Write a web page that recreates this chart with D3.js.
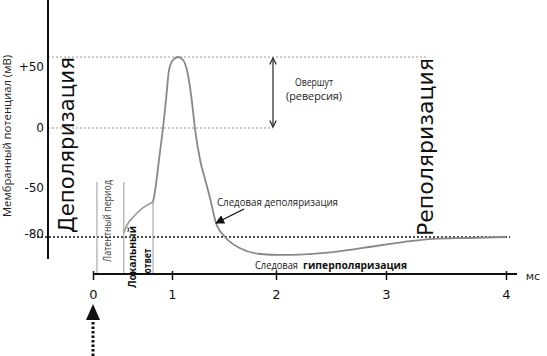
<!DOCTYPE html>
<html><head><meta charset="utf-8">
<script src="https://cdn.jsdelivr.net/npm/d3@7"></script>
<style>body{margin:0;background:#fff}svg{display:block}text{font-family:"DejaVu Sans",Verdana,sans-serif}.sm{font-family:"Open Sans","DejaVu Sans",sans-serif}</style>
</head><body><svg id="c" width="547" height="356"></svg>
<script>
// ---- data ----
const xTicks = [0, 1, 2, 3, 4];
const xTickLabels = ["0", "1", "2", "3", "4"];
const yTicks = [50, 0, -50, -80];
const yTickLabels = ["+50", "0", "-50", "-80"];
// local response (ms, mV)
const localT = [0.39, 0.43, 0.51, 0.63, 0.76];
const localV = [-77.5, -72.7, -67.8, -62.2, -58.6];
// action potential (ms, mV)
const apT = [0.76, 0.785, 0.835, 0.886, 0.924, 0.962, 1.01, 1.06, 1.106, 1.144, 1.19, 1.22, 1.27, 1.32, 1.37, 1.42, 1.51, 1.65, 1.85, 2.04, 2.52, 2.97, 3.39, 3.68, 4.0];
const apV = [-58.6, -52, -26.7, 0, 19.7, 40.8, 47.9, 50, 47.9, 40.8, 19.7, 0, -26.7, -43.3, -57.3, -70.8, -80, -86.7, -90.4, -91, -89.2, -84.9, -81.2, -80.6, -80];
const phaseT = [0.05, 0.39, 0.76]; // latent period / local response boundaries
const restV = -80, peakV = 50, zeroV = 0;

// ---- scales (hand-drawn, non uniform axis) ----
const x = d3.scaleLinear().domain([0, 1, 2, 3, 4]).range([93, 172, 276, 386, 506]);
const y = d3.scaleLinear().domain([-80, -50, 0, 50]).range([237, 188, 128, 57]);

const svg = d3.select("#c");
const defs = svg.append("defs");
defs.append("marker").attr("id","fill").attr("viewBox","0 0 10 10").attr("refX",9).attr("refY",5)
  .attr("markerWidth",9).attr("markerHeight",9).attr("markerUnits","userSpaceOnUse").attr("orient","auto")
  .append("path").attr("d","M0,0L10,5L0,10Z").attr("fill","#111");
defs.append("marker").attr("id","chev").attr("viewBox","0 0 10 10").attr("refX",9).attr("refY",5)
  .attr("markerWidth",8).attr("markerHeight",8).attr("markerUnits","userSpaceOnUse").attr("orient","auto-start-reverse")
  .append("path").attr("d","M1,1L9,5L1,9").attr("fill","none").attr("stroke","#333").attr("stroke-width",1.6);

const xAxisY = 274, yAxisX = 48;

function label(sel, len) { return sel.attr("textLength", len).attr("lengthAdjust", "spacingAndGlyphs"); }

// dotted reference lines
svg.append("line").attr("x1", yAxisX).attr("x2", 428).attr("y1", y(peakV)).attr("y2", y(peakV))
  .attr("stroke","#999").attr("stroke-width",1).attr("stroke-dasharray","2,2");
svg.append("line").attr("x1", yAxisX).attr("x2", 273).attr("y1", y(zeroV)).attr("y2", y(zeroV))
  .attr("stroke","#999").attr("stroke-width",1).attr("stroke-dasharray","2,2");
svg.append("line").attr("x1", 37).attr("x2", 510).attr("y1", y(restV)).attr("y2", y(restV))
  .attr("stroke","#111").attr("stroke-width",1.6).attr("stroke-dasharray","2,2");

// phase boundary lines
svg.append("line").attr("x1", x(phaseT[0])).attr("x2", x(phaseT[0])).attr("y1", 182).attr("y2", xAxisY).attr("stroke","#aaa").attr("stroke-width",1.2);
svg.append("line").attr("x1", x(phaseT[1])).attr("x2", x(phaseT[1])).attr("y1", 182).attr("y2", xAxisY).attr("stroke","#aaa").attr("stroke-width",1.2);
svg.append("line").attr("x1", x(phaseT[2])).attr("x2", x(phaseT[2])).attr("y1", y(localV[localV.length-1])).attr("y2", xAxisY).attr("stroke","#aaa").attr("stroke-width",1.2);

// curves
const line = d3.line().x(d => x(d[0])).y(d => y(d[1])).curve(d3.curveMonotoneX);
svg.append("path").datum(localT.map((t,i)=>[t, localV[i]])).attr("d", line)
  .attr("fill","none").attr("stroke","#999").attr("stroke-width",1.6);
svg.append("path").datum(apT.map((t,i)=>[t, apV[i]])).attr("d", line)
  .attr("fill","none").attr("stroke","#888").attr("stroke-width",1.8);

// axes
svg.append("line").attr("x1", yAxisX).attr("x2", yAxisX).attr("y1", 0).attr("y2", 259).attr("stroke","#111").attr("stroke-width",2);
const xa = svg.append("g").attr("transform", `translate(0,${xAxisY})`)
  .call(d3.axisBottom(x).tickValues(xTicks).tickFormat((d,i)=>xTickLabels[i]).tickSize(6).tickPadding(10));
xa.select(".domain").attr("d", `M${x(0)},0H517`).attr("stroke","#111").attr("stroke-width",2);
xa.selectAll(".tick line").attr("stroke","#111").attr("stroke-width",1.5).attr("y1",-3);
xa.selectAll(".tick text").attr("font-size",13).attr("fill","#111").attr("font-family","DejaVu Sans");
svg.append("text").attr("x",533).attr("y",xAxisY+6).attr("text-anchor","middle").attr("font-size",11).attr("fill","#222").text("мс");

// y tick labels
svg.selectAll(".yt").data(yTicks).enter().append("text")
  .attr("x", 44).attr("y", (d)=> y(d) + (d===50 ? 10 : d===-80 ? -3 : 0)).attr("dy","0.35em")
  .attr("text-anchor","end").attr("font-size",12).attr("fill","#111")
  .text((d,i)=>yTickLabels[i]);
label(svg.append("text").attr("class","sm").attr("transform","translate(11,136) rotate(-90)").attr("text-anchor","middle")
  .attr("font-size",10.5).attr("fill","#222"), 162).text("Мембранный потенциал (мВ)");

// big phase labels
label(svg.append("text").attr("transform",`translate(74,${(57+233)/2}) rotate(-90)`).attr("text-anchor","middle")
  .attr("font-size",21).attr("fill","#111"), 176).text("Деполяризация");
label(svg.append("text").attr("transform",`translate(433,${(58+236)/2}) rotate(-90)`).attr("text-anchor","middle")
  .attr("font-size",21).attr("fill","#111"), 178).text("Реполяризация");

// small phase labels
label(svg.append("text").attr("class","sm").attr("transform",`translate(${(x(phaseT[0])+x(phaseT[1]))/2+1},221) rotate(-90)`).attr("text-anchor","middle")
  .attr("font-size",10).attr("fill","#444"), 82).text("Латентный период");
label(svg.append("text").attr("class","sm").attr("transform",`translate(${x(phaseT[1])+12},257) rotate(-90)`).attr("text-anchor","middle")
  .attr("font-size",11).attr("font-weight","bold").attr("fill","#111"), 62).text("Локальный");
label(svg.append("text").attr("class","sm").attr("transform",`translate(${x(phaseT[1])+27},261) rotate(-90)`).attr("text-anchor","middle")
  .attr("font-size",11).attr("font-weight","bold").attr("fill","#111"), 25).text("ответ");

// overshoot arrow
svg.append("line").attr("x1",273).attr("x2",273).attr("y1",y(peakV)+1).attr("y2",y(zeroV)-1)
  .attr("stroke","#333").attr("stroke-width",1.3).attr("marker-start","url(#chev)").attr("marker-end","url(#chev)");
label(svg.append("text").attr("class","sm").attr("x",314).attr("y",86).attr("text-anchor","middle").attr("font-size",11.5).attr("fill","#222"), 38).text("Овершут");
label(svg.append("text").attr("class","sm").attr("x",314).attr("y",100).attr("text-anchor","middle").attr("font-size",11.5).attr("fill","#222"), 56).text("(реверсия)");

// trace depolarization
label(svg.append("text").attr("class","sm").attr("x",217).attr("y",206).attr("font-size",11).attr("fill","#222"), 121).text("Следовая деполяризация");
svg.append("line").attr("x1",244).attr("y1",209).attr("x2",216).attr("y2",223)
  .attr("stroke","#111").attr("stroke-width",1.3).attr("marker-end","url(#fill)");

// trace hyperpolarization
label(svg.append("text").attr("class","sm").attr("x",255).attr("y",269).attr("font-size",11).attr("fill","#222"), 43).text("Следовая");
label(svg.append("text").attr("class","sm").attr("x",303).attr("y",269).attr("font-size",11).attr("font-weight","bold").attr("fill","#111"), 104).text("гиперполяризация");

// stimulus arrow
svg.append("line").attr("x1",x(0)).attr("x2",x(0)).attr("y1",356).attr("y2",319)
  .attr("stroke","#111").attr("stroke-width",3).attr("stroke-dasharray","2.5,2");
svg.append("path").attr("d",`M${x(0)},304L${x(0)+7},320L${x(0)-7},320Z`).attr("fill","#111");
</script></body></html>
